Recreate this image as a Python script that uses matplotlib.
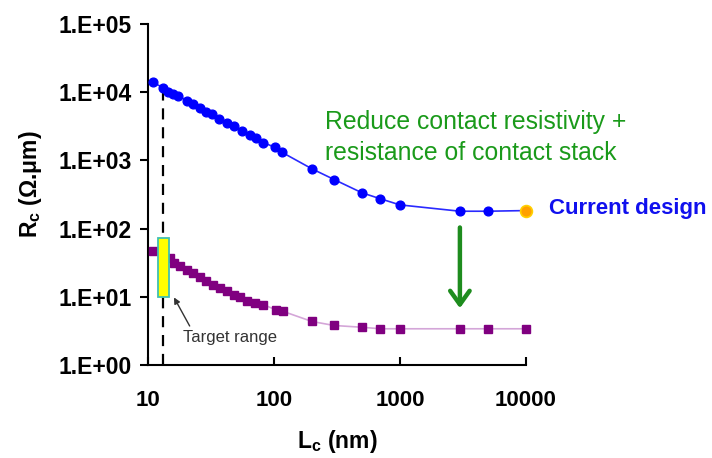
import matplotlib
matplotlib.use("Agg")
import matplotlib.pyplot as plt
from matplotlib.patches import Rectangle

plt.rcParams['font.family'] = ['Liberation Sans', 'DejaVu Sans']
plt.rcParams['mathtext.fontset'] = 'custom'
plt.rcParams['mathtext.rm'] = 'Liberation Sans:bold'
plt.rcParams['mathtext.it'] = 'Liberation Sans:bold'
plt.rcParams['mathtext.bf'] = 'Liberation Sans:bold'

# current design (blue)
lc_blue = [10.9, 13.1, 14.3, 15.7, 17.2, 20.2, 22.6, 25.7, 28.7, 32, 36.4, 42.1,
           47.7, 55.1, 63.8, 72.3, 82.2, 102, 116, 200, 300, 500, 700, 1000,
           3000, 5000]
rc_blue = [13900, 11700, 10200, 9570, 8940, 7550, 6820, 5960, 5210, 4870, 4110,
           3590, 3250, 2740, 2400, 2100, 1830, 1550, 1310, 753, 525, 335, 274,
           223, 180, 180]
lc_current = [10000]
rc_current = [184]

# improved contact stack (purple)
lc_purple = [10.9, 13, 14.8, 16.1, 17.9, 20.2, 22.5, 25.7, 29, 32.8, 37, 41.9,
             47.9, 54, 61, 70, 82, 103, 117, 200, 300, 500, 700, 1000, 3000,
             5000, 10000]
rc_purple = [47.3, 42, 37, 31.1, 28.8, 24.9, 22.2, 19.4, 17.3, 15.1, 13.5, 12.1,
             10.8, 9.87, 8.83, 8.06, 7.71, 6.45, 6.15, 4.35, 3.8, 3.58, 3.4, 3.4,
             3.4, 3.4, 3.4]

target_lc = 13.1
target_lo, target_hi = 10, 74

xticks = [10, 100, 1000, 10000]
xlabels = ['10', '100', '1000', '10000']
yticks = [1, 10, 100, 1000, 10000, 100000]
ylabels = ['1.E+00', '1.E+01', '1.E+02', '1.E+03', '1.E+04', '1.E+05']

fig = plt.figure(figsize=(7.12, 4.58), dpi=100)
ax = fig.add_axes([0.2083, 0.203, 0.530, 0.7445])
ax.set_xscale('log')
ax.set_yscale('log')
ax.set_xlim(10, 10000)
ax.set_ylim(1, 100000)

# dashed line at target length
ax.plot([target_lc, target_lc], [1, 12500], color='black', lw=1.6,
        dashes=(5, 3.5), zorder=2)

ax.plot(lc_purple, rc_purple, color='#d4a6d8', lw=1.2, zorder=3, clip_on=False)
ax.plot(lc_purple, rc_purple, 's', color='#800080', ms=6.3, mec='#800080',
        zorder=4, clip_on=False)

# target range bar
ax.add_patch(Rectangle((11.9, target_lo), 14.6 - 11.9, target_hi - target_lo,
                       facecolor='#ffff00', edgecolor='#40c0b0', lw=1.3,
                       zorder=5))

ax.plot(lc_blue + lc_current, rc_blue + rc_current, color='#2a2aff', lw=1.2,
        zorder=6, clip_on=False)
ax.plot(lc_blue, rc_blue, 'o', color='#0000ff', ms=6.3, zorder=7, clip_on=False)
ax.plot(lc_current, rc_current, 'o', color='#ffa000', mec='#ffd000', ms=8.5,
        mew=1.2, zorder=8, clip_on=False)

ax.annotate('Target range', xy=(16.0, 9.8), xytext=(18.9, 2.14),
            fontsize=12, color='#333333', ha='left', va='baseline',
            arrowprops=dict(arrowstyle='-|>', color='#333333', lw=1,
                            mutation_scale=9, shrinkA=0, shrinkB=0,
                            relpos=(0.07, 1.3)))

ax.annotate('', xy=(3000, 6.8), xytext=(3000, 104),
            arrowprops=dict(arrowstyle='->,head_length=0.7,head_width=0.5',
                            color='#1e8c1e', lw=3.2, mutation_scale=14,
                            shrinkA=0, shrinkB=0))

ax.text(252, 5430, 'Reduce contact resistivity +\nresistance of contact stack',
        fontsize=17.8, color='#1a9a1a', ha='left', va='top', linespacing=1.33)
ax.text(15400, 197, 'Current design', fontsize=16, fontweight='bold',
        color='#1010ee', ha='left', va='center', clip_on=False)

ax.set_xticks(xticks)
ax.set_xticklabels(xlabels)
ax.set_yticks(yticks)
ax.set_yticklabels(ylabels)
ax.minorticks_off()
ax.tick_params(axis='x', direction='in', length=6, width=1.5, pad=18,
               labelsize=16)
ax.tick_params(axis='y', direction='out', length=6, width=1.5, pad=6,
               labelsize=16.5)
for lab in ax.get_xticklabels() + ax.get_yticklabels():
    lab.set_fontweight('bold')

for side in ['top', 'right']:
    ax.spines[side].set_visible(False)
for side in ['left', 'bottom']:
    ax.spines[side].set_linewidth(1.5)

ax.set_xlabel(r'L$_\mathrm{c}$ (nm)', fontsize=16.5, fontweight='bold',
              labelpad=12)
ax.set_ylabel(r'R$_\mathrm{c}$ ($\Omega$.$\mu$m)', fontsize=16.5,
              fontweight='bold')
ax.yaxis.set_label_coords(-0.277, 0.53)

fig.savefig('out.png', dpi=100)
